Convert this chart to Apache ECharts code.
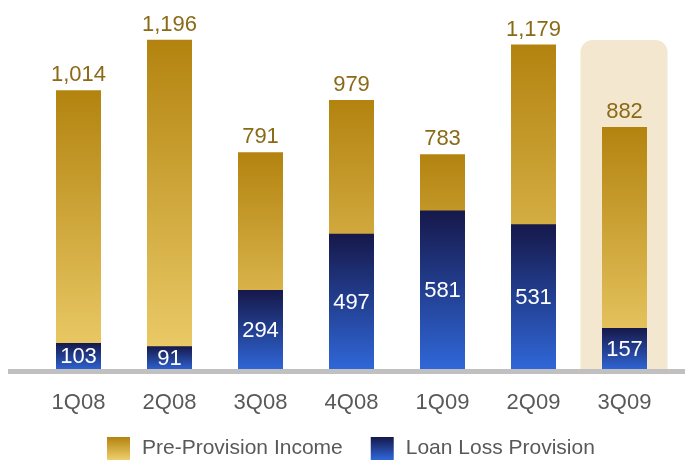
<!DOCTYPE html>
<html>
<head>
<meta charset="utf-8">
<script src="https://cdn.jsdelivr.net/npm/echarts@6/dist/echarts.min.js"></script>
<style>
    html, body { margin: 0; padding: 0; background: #fff; }
    #chart { width: 685px; height: 460px; }
</style>
</head>
<body>
<div id="chart"></div>
<script>
// quarters and values
var quarters = ['1Q08', '2Q08', '3Q08', '4Q08', '1Q09', '2Q09', '3Q09'];
var preProvision = [1014, 1196, 791, 979, 783, 1179, 882];
var loanLoss = [103, 91, 294, 497, 581, 531, 157];
var highlighted = '3Q09';

var gold = new echarts.graphic.LinearGradient(0, 0, 0, 1, [
    { offset: 0, color: '#b3830f' },
    { offset: 1, color: '#eecf6d' }
]);
var blue = new echarts.graphic.LinearGradient(0, 0, 0, 1, [
    { offset: 0, color: '#16184a' },
    { offset: 1, color: '#3068da' }
]);

function withComma(v) {
    return String(v).replace(/\B(?=(\d{3})+(?!\d))/g, ',');
}

var chart = echarts.init(document.getElementById('chart'));
var option = {
    animation: false,
    textStyle: { fontFamily: 'Liberation Sans, Arial, sans-serif' },
    grid: { left: 33, right: 15, top: 11, bottom: 88.5 },
    legend: {
        left: 107,
        top: 437,
        padding: 0,
        icon: 'rect',
        itemWidth: 23,
        itemHeight: 23,
        itemGap: 28,
        textStyle: { fontSize: 21, color: '#595959', padding: [0, 0, 0, 7] },
        data: ['Pre-Provision Income', 'Loan Loss Provision']
    },
    xAxis: {
        type: 'category',
        data: quarters,
        z: 10,
        axisLine: { show: false },
        axisTick: { show: false },
        axisLabel: { fontSize: 22, color: '#595959', margin: 20 }
    },
    yAxis: {
        type: 'value',
        min: 0,
        max: 1300,
        show: false,
        splitLine: { show: false }
    },
    series: [
        {
            name: 'Pre-Provision Income',
            type: 'bar',
            barWidth: 45,
            barGap: '-100%',
            itemStyle: { color: gold },
            label: {
                show: true,
                position: 'top',
                distance: 4,
                fontSize: 22,
                color: '#8a6a17',
                formatter: function (p) { return withComma(p.value); }
            },
            data: preProvision
        },
        {
            name: 'Loan Loss Provision',
            type: 'bar',
            barWidth: 45,
            itemStyle: { color: blue },
            label: {
                show: true,
                position: 'inside',
                fontSize: 22,
                color: '#ffffff'
            },
            data: loanLoss
        }
    ]
};
chart.setOption(option);

// highlight box behind the last quarter and the grey base line
var cx = chart.convertToPixel({ xAxisIndex: 0 }, highlighted);
var y0 = chart.convertToPixel({ yAxisIndex: 0 }, 0);
var yTop = chart.convertToPixel({ yAxisIndex: 0 }, 1195);
chart.setOption({
    graphic: [
        {
            type: 'rect',
            z: 0,
            shape: { x: cx - 44, y: yTop, width: 87, height: y0 - yTop, r: [12, 12, 0, 0] },
            style: { fill: '#f3e7cf' }
        },
        {
            type: 'rect',
            z: 100,
            shape: { x: 8, y: y0 - 2.5, width: 677, height: 5 },
            style: { fill: '#c0c0c0' }
        }
    ]
});
</script>
</body>
</html>
